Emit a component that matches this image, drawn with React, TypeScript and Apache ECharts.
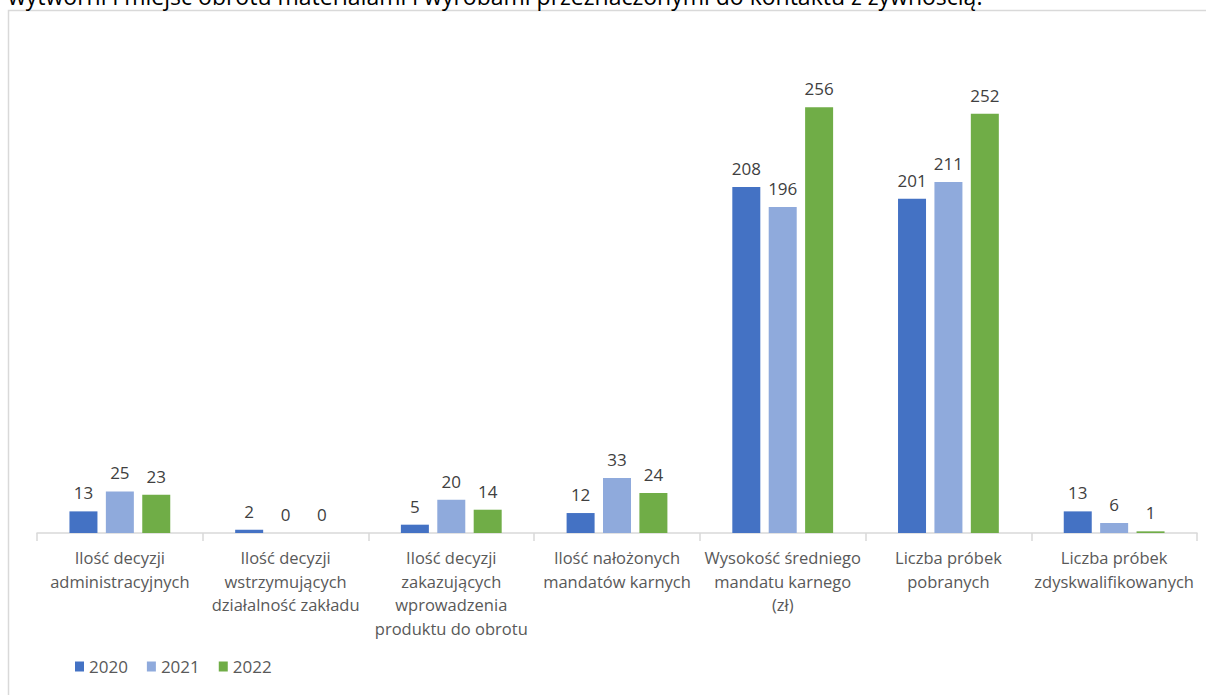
import React, { useEffect, useRef } from "react";
import * as echarts from "echarts";

// Categories (x axis) and yearly values
const categories = [
  "Ilość decyzji\nadministracyjnych",
  "Ilość decyzji\nwstrzymujących\ndziałalność zakładu",
  "Ilość decyzji\nzakazujących\nwprowadzenia\nproduktu do obrotu",
  "Ilość nałożonych\nmandatów karnych",
  "Wysokość średniego\nmandatu karnego\n(zł)",
  "Liczba próbek\npobranych",
  "Liczba próbek\nzdyskwalifikowanych",
];

const years = ["2020", "2021", "2022"];

const values2020 = [13, 2, 5, 12, 208, 201, 13];
const values2021 = [25, 0, 20, 33, 196, 211, 6];
const values2022 = [23, 0, 14, 24, 256, 252, 1];

const seriesValues = [values2020, values2021, values2022];
const seriesColors = ["#4472C4", "#8FAADC", "#70AD47"];

const headingText =
  "wytwórni i miejsc obrotu materiałami i wyrobami przeznaczonymi do kontaktu z żywnością.";

const FONT = "'Open Sans', 'Noto Sans', sans-serif";

export default function App() {
  const ref = useRef<HTMLDivElement>(null);

  useEffect(() => {
    if (!ref.current) return;
    const chart = echarts.init(ref.current, null, { renderer: "svg" });

    const option: echarts.EChartsOption = {
      animation: false,
      backgroundColor: "#ffffff",
      textStyle: { fontFamily: FONT },
      graphic: [
        {
          // chart frame: left and top edges
          type: "polyline",
          silent: true,
          shape: {
            points: [
              [8.5, 695],
              [8.5, 10.5],
              [1206, 10.5],
            ],
          },
          style: { fill: "none", stroke: "#d9d9d9", lineWidth: 1.5 },
        },
        {
          type: "text",
          silent: true,
          x: 8,
          y: -4,
          style: {
            text: headingText,
            fontFamily: FONT,
            fontSize: 23,
            fill: "#000000",
            verticalAlign: "middle",
          },
        },
      ],
      legend: {
        data: years,
        left: 70,
        top: 653,
        itemWidth: 9,
        itemHeight: 10,
        itemGap: 19,
        icon: "rect",
        textStyle: { fontFamily: FONT, fontSize: 17, color: "#595959" },
      },
      grid: { left: 37, right: 9, top: 34, bottom: 164 },
      xAxis: {
        type: "category",
        data: categories,
        axisLine: { lineStyle: { color: "#d9d9d9", width: 1.5 } },
        axisTick: {
          show: true,
          length: 8,
          alignWithLabel: false,
          lineStyle: { color: "#d9d9d9", width: 1.5 },
        },
        axisLabel: {
          interval: 0,
          margin: 13,
          fontFamily: FONT,
          fontSize: 16.5,
          lineHeight: 23.5,
          color: "#595959",
        },
      },
      yAxis: {
        type: "value",
        min: 0,
        max: 300,
        show: false,
        splitLine: { show: false },
      },
      series: years.map((y, i) => ({
        name: y,
        type: "bar",
        data: seriesValues[i],
        barWidth: 28,
        barGap: "30%",
        itemStyle: { color: seriesColors[i] },
        label: {
          show: true,
          position: "top",
          distance: 10,
          fontFamily: FONT,
          fontSize: 17,
          color: "#404040",
        },
      })),
    };

    chart.setOption(option);
    return () => chart.dispose();
  }, []);

  return (
    <div
      ref={ref}
      style={{ position: "fixed", left: 0, top: 0, width: 1206, height: 697 }}
    />
  );
}
